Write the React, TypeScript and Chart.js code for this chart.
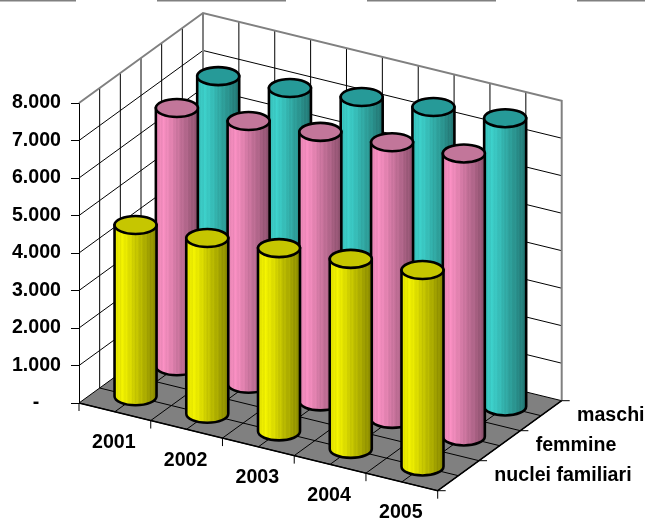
import React, { useEffect, useRef } from "react";
import { Chart, registerables } from "chart.js";

Chart.register(...registerables);

const years = ["2001", "2002", "2003", "2004", "2005"];
const seriesNames = ["nuclei familiari", "femmine", "maschi"];
const nucleiFamiliari = [4580, 4700, 4900, 5080, 5250];
const femmine = [6900, 7020, 7200, 7390, 7560];
const maschi = [6950, 7100, 7330, 7530, 7700];

const yTickLabels: Record<number, string> = {
  0: "-    ", 1000: "1.000", 2000: "2.000", 3000: "3.000", 4000: "4.000",
  5000: "5.000", 6000: "6.000", 7000: "7.000", 8000: "8.000",
};

const FONT = '"Liberation Sans", Arial, sans-serif';
const FONT_SIZE = 19.6;
const BOLD = `bold ${FONT_SIZE}px ${FONT}`;
const DEPTH_X = 124;
const DEPTH_Y = -90;
const SHEAR = 87.7 / 358.7;
const RX = 21;
const RY = 9;

type RGB = [number, number, number];
const palette: { top: string; side: RGB }[] = [
  { top: "rgb(198,198,0)", side: [240, 240, 0] },
  { top: "rgb(194,118,154)", side: [246, 142, 192] },
  { top: "rgb(38,154,152)", side: [60, 206, 200] },
];
const stripes = [0, 0.035, -0.02, 0.02, -0.03, 0.03, 0, -0.02, 0.03, -0.01];

function sideGradient(ctx: CanvasRenderingContext2D, cx: number, side: RGB) {
  const g = ctx.createLinearGradient(cx - RX, 0, cx + RX, 0);
  const n = 28;
  for (let k = 0; k <= n; k++) {
    const t = k / n;
    const shade = t < 0.2 ? 0.94 + t * 0.3 : 1 - (t - 0.2) * 0.55;
    const b = shade + stripes[k % stripes.length];
    const c = side.map((v) => Math.max(0, Math.min(255, Math.round(v * b))));
    g.addColorStop(t, `rgb(${c[0]},${c[1]},${c[2]})`);
  }
  return g;
}

const scene = {
  id: "scene3d",
  beforeDatasetsDraw(chart: any) {
    const { ctx, chartArea: a, scales } = chart;
    const yS = scales.y;
    const x0 = a.left;
    const y0 = yS.getPixelForValue(0);
    const w = a.right - a.left;
    const sh = w * SHEAR;
    const top = yS.getPixelForValue(8000);
    const line = (pts: number[][], color: string, width: number) => {
      ctx.beginPath();
      pts.forEach((p, i) => (i ? ctx.lineTo(p[0], p[1]) : ctx.moveTo(p[0], p[1])));
      ctx.strokeStyle = color;
      ctx.lineWidth = width;
      ctx.stroke();
    };
    ctx.save();

    // dashed frame remnant along the top of the picture
    ctx.save();
    ctx.setLineDash([129, 81]);
    ctx.lineDashOffset = 53;
    line([[0, 0.5], [645, 0.5]], "#808080", 2);
    ctx.restore();

    // floor
    ctx.beginPath();
    ctx.moveTo(x0, y0);
    ctx.lineTo(x0 + w, y0 + sh);
    ctx.lineTo(x0 + w + DEPTH_X, y0 + sh + DEPTH_Y);
    ctx.lineTo(x0 + DEPTH_X, y0 + DEPTH_Y);
    ctx.closePath();
    ctx.fillStyle = "#808080";
    ctx.fill();

    // floor grid
    for (let i = 0; i <= 10; i++) {
      const fx = x0 + (w * i) / 10;
      const fy = y0 + (sh * i) / 10;
      line([[fx, fy], [fx + DEPTH_X, fy + DEPTH_Y]], "#000", 1);
    }
    for (let j = 0; j <= 6; j++) {
      const zx = x0 + (DEPTH_X * j) / 6;
      const zy = y0 + (DEPTH_Y * j) / 6;
      line([[zx, zy], [zx + w, zy + sh]], "#000", 1);
    }

    // wall verticals
    for (let j = 1; j < 6; j++) {
      const zx = x0 + (DEPTH_X * j) / 6;
      const zy = (DEPTH_Y * j) / 6;
      line([[zx, y0 + zy], [zx, top + zy]], "#000", 1);
    }
    for (let i = 1; i < 10; i++) {
      const fx = x0 + DEPTH_X + (w * i) / 10;
      const fy = DEPTH_Y + (sh * i) / 10;
      line([[fx, y0 + fy], [fx, top + fy]], "#000", 1);
    }
    // wall horizontals
    for (let v = 1000; v < 8000; v += 1000) {
      const py = yS.getPixelForValue(v);
      line([[x0, py], [x0 + DEPTH_X, py + DEPTH_Y], [x0 + DEPTH_X + w, py + DEPTH_Y + sh]], "#000", 1);
    }
    // gray wall frame
    line([[x0, top], [x0 + DEPTH_X, top + DEPTH_Y], [x0 + DEPTH_X + w, top + DEPTH_Y + sh], [x0 + DEPTH_X + w, y0 + DEPTH_Y + sh]], "#808080", 2);
    line([[x0 + DEPTH_X, top + DEPTH_Y], [x0 + DEPTH_X, y0 + DEPTH_Y]], "#808080", 2);

    // front floor edges and ticks
    line([[x0, y0], [x0 + w, y0 + sh], [x0 + w + DEPTH_X, y0 + sh + DEPTH_Y]], "#000", 1.5);
    for (let i = 0; i <= 5; i++) {
      const fx = x0 + (w * i) / 5;
      const fy = y0 + (sh * i) / 5;
      line([[fx, fy], [fx, fy + 8]], "#000", 1);
    }
    for (let j = 0; j <= 3; j++) {
      const zx = x0 + w + (DEPTH_X * j) / 3;
      const zy = y0 + sh + (DEPTH_Y * j) / 3;
      line([[zx, zy], [zx + 8, zy]], "#000", 1);
    }
    ctx.restore();
  },
  afterDatasetsDraw(chart: any) {
    const { ctx, chartArea: a, scales } = chart;
    const x0 = a.left;
    const y0 = scales.y.getPixelForValue(0);
    const w = a.right - a.left;
    const sh = w * SHEAR;
    ctx.save();
    for (let d = chart.data.datasets.length - 1; d >= 0; d--) {
      const meta = chart.getDatasetMeta(d);
      const zf = (d + 0.5) / 3;
      meta.data.forEach((bar: any) => {
        const cx = bar.x + DEPTH_X * zf;
        const baseY = bar.base + (bar.x - x0) * SHEAR + DEPTH_Y * zf;
        const topY = bar.y + (bar.x - x0) * SHEAR + DEPTH_Y * zf;
        const col = palette[d];
        ctx.beginPath();
        ctx.moveTo(cx - RX, topY);
        ctx.lineTo(cx - RX, baseY);
        ctx.ellipse(cx, baseY, RX, RY, 0, Math.PI, 0, true);
        ctx.lineTo(cx + RX, topY);
        ctx.closePath();
        ctx.fillStyle = sideGradient(ctx, cx, col.side);
        ctx.fill();
        ctx.strokeStyle = "#000";
        ctx.lineWidth = 2.6;
        ctx.stroke();
        ctx.beginPath();
        ctx.ellipse(cx, topY, RX, RY, 0, 0, Math.PI * 2);
        ctx.fillStyle = col.top;
        ctx.fill();
        ctx.stroke();
      });
    }
    // category and series labels along the floor edges
    ctx.fillStyle = "#000";
    ctx.font = BOLD;
    ctx.textBaseline = "middle";
    ctx.textAlign = "center";
    years.forEach((label, i) => {
      const px = scales.x.getPixelForValue(i);
      ctx.fillText(label, px - 1, y0 + (px - x0) * SHEAR + 31);
    });
    ctx.textAlign = "left";
    seriesNames.forEach((label, j) => {
      const zf = (j + 0.5) / 3;
      ctx.fillText(label, x0 + w + DEPTH_X * zf + 36, y0 + sh + DEPTH_Y * zf);
    });
    ctx.restore();
  },
};

export default function App() {
  const ref = useRef<HTMLCanvasElement>(null);
  useEffect(() => {
    document.body.style.margin = "0";
    const chart = new Chart(ref.current!, {
      type: "bar",
      data: {
        labels: years,
        datasets: [nucleiFamiliari, femmine, maschi].map((values, i) => ({
          label: seriesNames[i],
          data: values,
          grouped: false,
          backgroundColor: "rgba(0,0,0,0)",
          borderWidth: 0,
        })),
      },
      options: {
        responsive: false,
        animation: false,
        devicePixelRatio: 1,
        layout: { padding: { top: 103, bottom: 117, right: 207.3, left: 0 } },
        plugins: { legend: { display: false }, tooltip: { enabled: false }, title: { display: false } },
        scales: {
          x: { display: false },
          y: {
            min: 0,
            max: 8000,
            afterFit(scale: any) { scale.width = 79; },
            grid: { drawOnChartArea: false, tickLength: 8, color: "#000", tickWidth: 1 },
            border: { display: true, color: "#000", width: 1 },
            ticks: {
              stepSize: 1000,
              padding: 10,
              color: "#000",
              font: { family: FONT, size: FONT_SIZE, weight: "bold" },
              callback: (v: any) => yTickLabels[v as number],
            },
          },
        },
      },
      plugins: [scene],
    } as any);
    return () => chart.destroy();
  }, []);
  return (
    <div style={{ position: "absolute", left: 0, top: 0, width: 645, height: 520 }}>
      <canvas ref={ref} width={645} height={520} style={{ display: "block" }} />
    </div>
  );
}
